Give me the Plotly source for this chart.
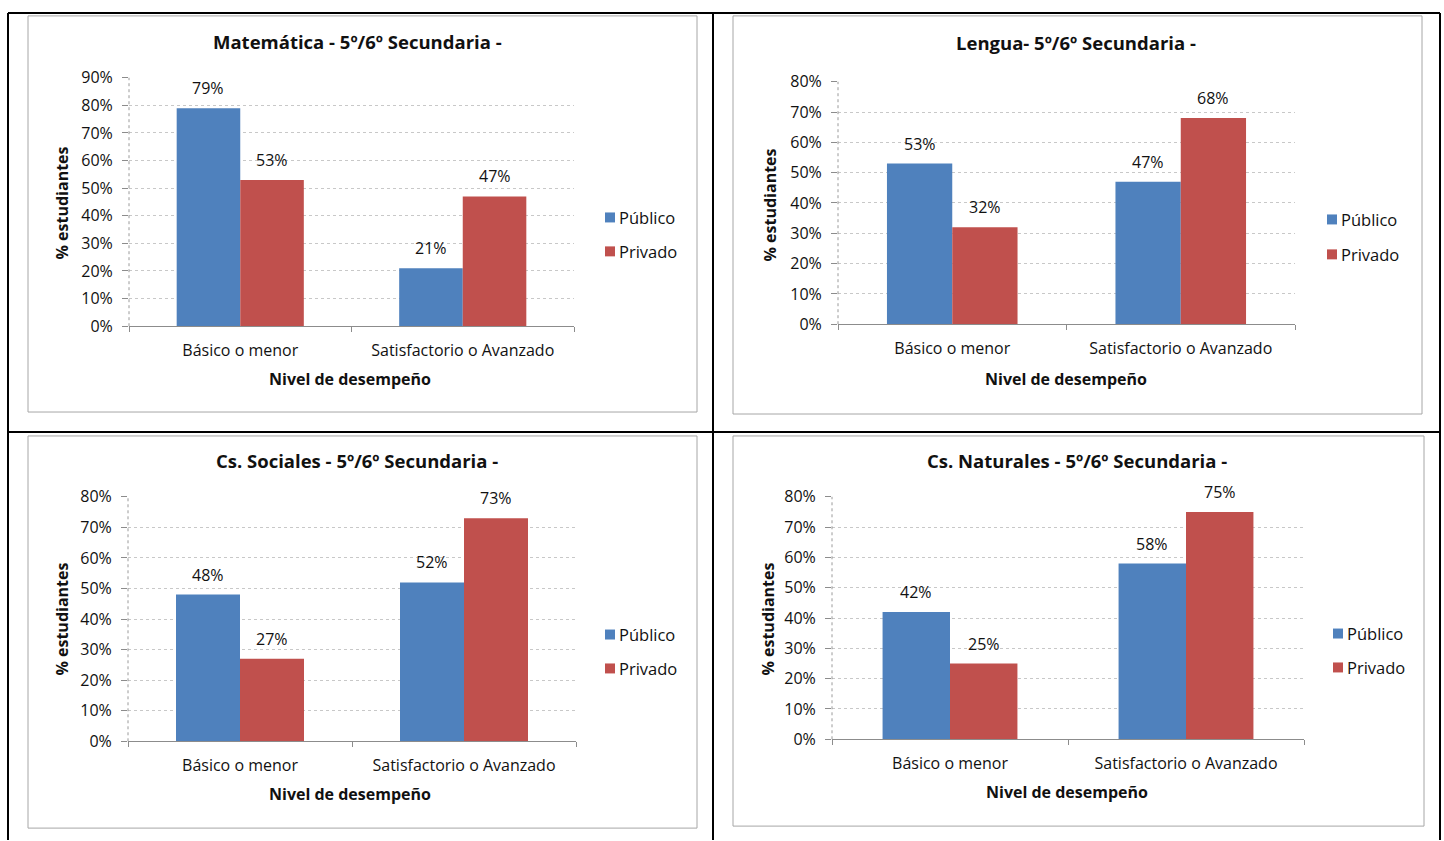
import plotly.graph_objects as go

# --- data -------------------------------------------------------------
niveles = ["Básico o menor", "Satisfactorio o Avanzado"]
series = ["Público", "Privado"]

titulos = [
    "Matemática - 5º/6º Secundaria -",
    "Lengua- 5º/6º Secundaria -",
    "Cs. Sociales - 5º/6º Secundaria -",
    "Cs. Naturales - 5º/6º Secundaria -",
]

matematica_publico = [79, 21]
matematica_privado = [53, 47]
lengua_publico = [53, 47]
lengua_privado = [32, 68]
sociales_publico = [48, 52]
sociales_privado = [27, 73]
naturales_publico = [42, 58]
naturales_privado = [25, 75]

y_max = [90, 80, 80, 80]

valores = [
    (matematica_publico, matematica_privado),
    (lengua_publico, lengua_privado),
    (sociales_publico, sociales_privado),
    (naturales_publico, naturales_privado),
]

# --- styling / layout (pixel positions on the page) -------------------
W, H = 1444, 841
FONT = "Open Sans"
COLORS = ["#4F81BD", "#C0504D"]
TXT = "#111111"

# plot area per panel: left, right, y of 0 %, y of top tick
plot_px = [
    (129, 574, 326, 77),
    (838, 1295, 324, 81),
    (128, 576, 742, 497),
    (832, 1304, 740, 497),
]
# outer chart frame per panel
frame_px = [
    (28, 15, 697, 412),
    (733, 15, 1422, 414),
    (28, 436, 697, 829),
    (733, 436, 1424, 827),
]
title_px = [(357, 41), (1076, 42), (357, 461), (1077, 461)]
ytitle_px = [(62, 203), (770, 205), (62, 620), (768, 620)]
xtitle_px = [(350, 379), (1066, 379), (350, 795), (1067, 793)]
legend_px = [(605, 217, 251), (1327, 219, 254), (605, 635, 669), (1333, 634, 668)]

# the figure body is drawn slightly shorter than the page, centred on it
ROW_SCALE = 0.976
ROW_MID = H / 2


def fx(px):
    return px / W


def fy(py):
    return 1 - (ROW_MID + (py - ROW_MID) / ROW_SCALE) / H


fig = go.Figure()
shapes = []
annotations = []

BAR_W = 1 / 3.5  # Excel gap width 150 %


def label(x, y, text, size, bold=False, angle=0, xanchor="center"):
    return dict(
        x=fx(x), y=fy(y), xref="paper", yref="paper", showarrow=False,
        xanchor=xanchor, yanchor="middle", textangle=angle,
        text=f"<b>{text}</b>" if bold else text,
        font=dict(family=FONT, size=size, color=TXT),
    )


for k in range(4):
    sfx = "" if k == 0 else str(k + 1)
    xa, ya = "x" + sfx, "y" + sfx
    left, right, y0, ytop = plot_px[k]

    for s, (nombre, vals) in enumerate(zip(series, valores[k])):
        fig.add_trace(go.Bar(
            x=niveles, y=vals, name=nombre,
            marker=dict(color=COLORS[s], line=dict(width=0)),
            xaxis=xa, yaxis=ya, showlegend=False,
            hoverinfo="skip",
        ))
        for i, v in enumerate(vals):
            annotations.append(dict(
                x=i + (s - 0.5) * BAR_W, y=v, xref=xa, yref=ya,
                xanchor="center", yanchor="middle",
                text=f"{v}%", showarrow=False, yshift=20,
                font=dict(family=FONT, size=16, color=TXT),
            ))

    fig.layout["xaxis" + sfx] = dict(
        domain=[fx(left), fx(right)], anchor=ya, type="category",
        tickson="boundaries", ticks="outside", ticklen=5, tickcolor="#8c8c8c",
        showline=True, linecolor="#8c8c8c", linewidth=1, showgrid=False,
        tickfont=dict(family=FONT, size=16, color=TXT), ticklabelstandoff=10,
        fixedrange=True,
    )
    fig.layout["yaxis" + sfx] = dict(
        domain=[fy(y0), fy(ytop)], anchor=xa, range=[0, y_max[k]],
        dtick=10, ticksuffix="%", ticks="outside", ticklen=6,
        tickcolor="#8c8c8c", showline=False, zeroline=False,
        showgrid=True, gridcolor="#c8c8c8", griddash="dot", gridwidth=1,
        tickfont=dict(family=FONT, size=16, color=TXT), ticklabelstandoff=6,
        fixedrange=True,
    )

    # dotted value axis line
    shapes.append(dict(
        type="line", xref=xa + " domain", yref=ya + " domain",
        x0=0, x1=0, y0=0, y1=1, line=dict(color="#9a9a9a", width=1, dash="dot"),
    ))

    # chart frame
    fl, ft, fr, fb = frame_px[k]
    shapes.append(dict(
        type="rect", xref="paper", yref="paper",
        x0=fx(fl), x1=fx(fr), y0=fy(fb), y1=fy(ft),
        line=dict(color="#a6a6a6", width=1), layer="below",
    ))

    annotations.append(label(*title_px[k], titulos[k], 18.5, bold=True))
    annotations.append(label(*ytitle_px[k], "% estudiantes", 16, bold=True, angle=-90))
    annotations.append(label(*xtitle_px[k], "Nivel de desempeño", 16, bold=True))

    # legend: swatch + label
    lx, ly1, ly2 = legend_px[k]
    for s, ly in enumerate((ly1, ly2)):
        shapes.append(dict(
            type="rect", xref="paper", yref="paper",
            x0=fx(lx), x1=fx(lx + 10), y0=fy(ly + 5), y1=fy(ly - 5),
            fillcolor=COLORS[s], line=dict(width=0),
        ))
        annotations.append(label(lx + 12, ly, series[s], 16.5, xanchor="left"))

# table rules between the panels
for (x0, y0_, x1, y1) in [
    (8, 12, 1440, 12), (8, 432, 1440, 432),
    (8, 12, 8, 841), (713, 12, 713, 841), (1440, 12, 1440, 841),
]:
    shapes.append(dict(
        type="line", xref="paper", yref="paper",
        x0=fx(x0), x1=fx(x1), y0=fy(y0_), y1=fy(y1),
        line=dict(color="#000000", width=2),
    ))

fig.update_layout(
    width=W, height=H, autosize=False, margin=dict(l=0, r=0, t=0, b=0),
    paper_bgcolor="white", plot_bgcolor="white",
    barmode="group", bargap=1 - 2 * BAR_W, bargroupgap=0,
    shapes=shapes, annotations=annotations, showlegend=False,
    font=dict(family=FONT, color=TXT),
)

fig.write_html("out.html", config={"displayModeBar": False})
